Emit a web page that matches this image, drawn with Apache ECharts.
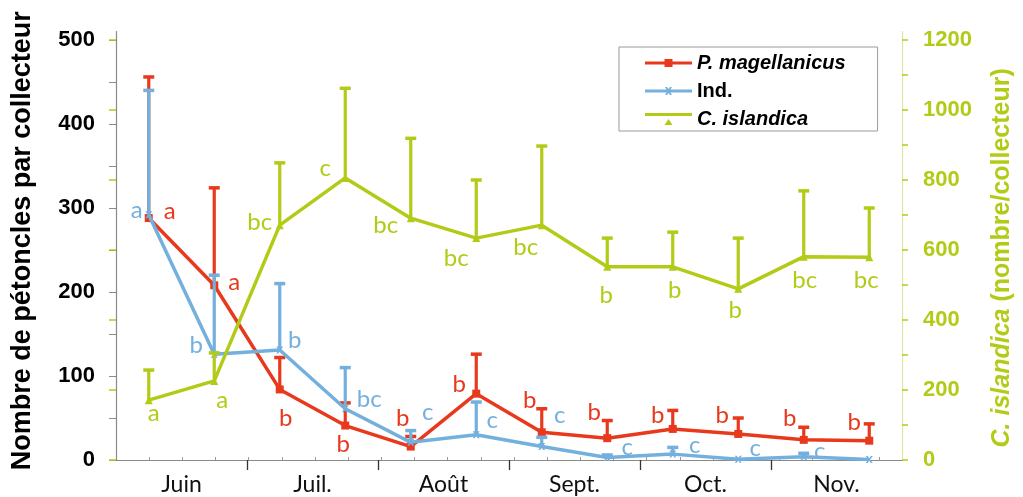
<!DOCTYPE html>
<html>
<head>
<meta charset="utf-8">
<script src="https://cdn.jsdelivr.net/npm/echarts@6/dist/echarts.min.js"></script>
<style>html,body{margin:0;padding:0;background:#fff;overflow:hidden;width:1023px;height:497px;}#chart{width:1023px;height:497px;display:block;}</style>
</head>
<body>
<div id="chart"></div>
<script>
// ---- data ----
const months = ['Juin', 'Juil.', 'Août', 'Sept.', 'Oct.', 'Nov.'];
// 12 sampling dates, two per month
const magMean  = [288, 208, 84, 41, 16, 79, 33, 26, 37, 31, 24, 23];
const magUpper = [456, 324, 122, 68, 28, 126, 61, 47, 59, 50, 39, 43];
const indMean  = [292, 126, 131, 61, 21, 30, 16, 3, 7, 1, 4, 0.5];
const indUpper = [440, 220, 210, 110, 35, 69, 27, 6, 15, null, 8, null];
const islMean  = [171, 226, 671, 806, 691, 634, 671, 552, 552, 489, 581, 579];
const islUpper = [257, 306, 849, 1062, 919, 800, 897, 634, 651, 634, 769, 720];
const magLetters = ['a', 'a', 'b', 'b', 'b', 'b', 'b', 'b', 'b', 'b', 'b', 'b'];
const indLetters = ['a', 'b', 'b', 'bc', 'c', 'c', 'c', 'c', 'c', 'c', 'c', ''];
const islLetters = ['a', 'a', 'bc', 'c', 'bc', 'bc', 'bc', 'b', 'b', 'b', 'bc', 'bc'];
const leftTicks = [0, 100, 200, 300, 400, 500];
const rightTicks = [0, 200, 400, 600, 800, 1000, 1200];

// ---- layout (label offsets in px) ----
const magOff = [[21,-7],[20,-3],[6,29],[-2,19],[-8,-28],[-17,-9],[-12,-32],[-13,-26],[-15,-14],[-16,-19],[-14,-22],[-15,-18]];
const indOff = [[-12,-4],[-18,-9],[15,-10],[24,-9],[17,-30],[16,-15],[18,-31],[20,-10],[22,-9],[17,-11],[16,-5],[0,0]];
const islOff = [[5,13],[8,19],[-20,-3],[-20,-10],[-25,7],[-20,20],[-16,22],[-1,28],[2,23],[-3,21],[1,24],[-3,23]];

const RED = '#E8391D', BLUE = '#74B0DD', GREEN = '#B3CB17';
const LETTER_FONT = 'Lato';
const xPos = i => i + 0.5; // sample i sits at centre of its half-month slot

function lineData(mean, letters, offs, color) {
  return mean.map((v, i) => ({
    value: [xPos(i), v],
    label: {
      show: letters[i] !== '', formatter: letters[i], position: 'inside',
      offset: offs[i], color: color, fontFamily: LETTER_FONT, fontSize: 24
    }
  }));
}
function errData(mean, upper) {
  const out = [];
  mean.forEach((v, i) => { if (upper[i] != null) out.push([xPos(i), v, upper[i]]); });
  return out;
}
function errRender(color) {
  return function (params, api) {
    const x = api.value(0);
    const p0 = api.coord([x, api.value(1)]);
    const p1 = api.coord([x, api.value(2)]);
    return {
      type: 'group', children: [
        { type: 'line', shape: { x1: p0[0], y1: p0[1], x2: p1[0], y2: p1[1] }, style: { stroke: color, lineWidth: 3.2 } },
        { type: 'line', shape: { x1: p1[0] - 5.5, y1: p1[1], x2: p1[0] + 5.5, y2: p1[1] }, style: { stroke: color, lineWidth: 3.5 } }
      ]
    };
  };
}

const monthCenters = months.map((m, i) => 2 * i + 1);
const monthBounds = [2, 4, 6, 8, 10];
const minorPos = [];
for (let k = 1; k < 24; k++) minorPos.push(k / 2);

const gridBox = { left: 116, right: 111, top: 31.6, bottom: 37 };
const chart = echarts.init(document.getElementById('chart'), null, { renderer: 'canvas', width: 1023, height: 497 });
chart.setOption({
  animation: false,
  backgroundColor: '#fff',
  grid: [Object.assign({}, gridBox), Object.assign({}, gridBox)],
  legend: {
    orient: 'vertical', left: 619, top: 47,
    backgroundColor: '#fff', borderColor: '#9a9a9a', borderWidth: 1,
    padding: [6, 32, 2, 26], itemGap: 8, itemWidth: 47, itemHeight: 12,
    textStyle: { fontFamily: 'Liberation Sans', fontWeight: 'bold', fontSize: 20, color: '#000' },
    data: [
      { name: 'P. magellanicus', icon: 'path://M0,2.5H47V5.5H0Z M19.5,0H27.5V8H19.5Z', textStyle: { fontStyle: 'italic' } },
      { name: 'Ind.', icon: 'path://M0,2.5H47V5.5H0Z M20,0L22,0L23.5,2L25,0L27,0L24.5,4L27,8L25,8L23.5,6L22,8L20,8L22.5,4Z' },
      { name: 'C. islandica', icon: 'path://M0,0H47V3H0Z M23.5,6L27.5,12H19.5Z', textStyle: { fontStyle: 'italic' } }
    ]
  },
  xAxis: [
    {
      type: 'value', gridIndex: 0, min: 0, max: 12, position: 'bottom',
      splitLine: { show: false },
      axisLine: { lineStyle: { color: '#8a8a8a', width: 1.2 } },
      axisTick: { show: true, length: 10, customValues: monthBounds, lineStyle: { color: '#333', width: 1.3 } },
      axisLabel: {
        customValues: monthCenters, margin: 13,
        formatter: v => months[(v - 1) / 2],
        fontFamily: 'Lato', fontSize: 23, color: '#111'
      }
    },
    {
      type: 'value', gridIndex: 1, min: 0, max: 12, position: 'bottom',
      splitLine: { show: false }, axisLine: { show: false }, axisLabel: { show: false },
      axisTick: { show: true, inside: true, length: 3, customValues: minorPos, lineStyle: { color: '#999' } }
    }
  ],
  yAxis: [
    {
      type: 'value', gridIndex: 0, min: 0, max: 510, position: 'left',
      name: 'Nombre de pétoncles par collecteur', nameLocation: 'middle', nameGap: 80,
      nameTextStyle: { fontFamily: 'Liberation Sans', fontWeight: 'bold', fontSize: 27, color: '#000', padding: [0, 0, 0, 10] },
      splitLine: { show: false },
      axisLine: { show: true, lineStyle: { color: '#8a8a8a', width: 1.2 } },
      axisTick: { show: true, length: 7, customValues: [0,50,100,150,200,250,300,350,400,450,500], lineStyle: { color: '#8a8a8a' } },
      axisLabel: { customValues: leftTicks, formatter: v => String(v), margin: 21, fontFamily: 'Liberation Sans', fontWeight: 'bold', fontSize: 22, color: '#000' }
    },
    {
      type: 'value', gridIndex: 0, min: 0, max: 1224, position: 'right',
      name: '{i|C. islandica} (nombre/collecteur)', nameLocation: 'middle', nameGap: 88,
      nameTextStyle: {
        fontFamily: 'Liberation Sans', fontWeight: 'bold', fontSize: 25, color: GREEN, padding: [0, 24, 0, 0],
        rich: { i: { fontFamily: 'Liberation Sans', fontWeight: 'bold', fontStyle: 'italic', fontSize: 25, color: GREEN } }
      },
      splitLine: { show: false },
      axisLine: { show: true, lineStyle: { color: '#DCE7A6', width: 1.2 } },
      axisTick: { show: true, length: 6, customValues: [0,100,200,300,400,500,600,700,800,900,1000,1100,1200], lineStyle: { color: GREEN, width: 1.5 } },
      axisLabel: { customValues: rightTicks, formatter: v => String(v), margin: 21, fontFamily: 'Liberation Sans', fontWeight: 'bold', fontSize: 22, color: GREEN }
    },
    {
      type: 'value', gridIndex: 1, min: 0, max: 1224, position: 'right',
      splitLine: { show: false }, axisLine: { show: false }, axisLabel: { show: false },
      axisTick: { show: true, inside: true, length: 7, customValues: rightTicks, lineStyle: { color: GREEN, width: 1.5 } }
    }
  ],
  series: [
    {
      name: 'P. magellanicus', type: 'line', xAxisIndex: 0, yAxisIndex: 0,
      data: lineData(magMean, magLetters, magOff, RED),
      symbol: 'rect', symbolSize: 8, showAllSymbol: true,
      itemStyle: { color: RED }, lineStyle: { color: RED, width: 3.5 }, z: 3
    },
    { type: 'custom', xAxisIndex: 0, yAxisIndex: 0, data: errData(magMean, magUpper), renderItem: errRender(RED), encode: { x: 0, y: [1, 2] }, z: 3 },
    {
      name: 'Ind.', type: 'line', xAxisIndex: 0, yAxisIndex: 0,
      data: lineData(indMean, indLetters, indOff, BLUE),
      symbol: 'path://M0,0L2,0L3.5,2.5L5,0L7,0L4.5,3.5L7,7L5,7L3.5,4.5L2,7L0,7L2.5,3.5Z', symbolSize: 7, showAllSymbol: true,
      itemStyle: { color: BLUE }, lineStyle: { color: BLUE, width: 3.5 }, z: 4
    },
    { type: 'custom', xAxisIndex: 0, yAxisIndex: 0, data: errData(indMean, indUpper), renderItem: errRender(BLUE), encode: { x: 0, y: [1, 2] }, z: 4 },
    {
      name: 'C. islandica', type: 'line', xAxisIndex: 0, yAxisIndex: 1,
      data: lineData(islMean, islLetters, islOff, GREEN),
      symbol: 'triangle', symbolSize: 8, showAllSymbol: true,
      itemStyle: { color: GREEN }, lineStyle: { color: GREEN, width: 3.5 }, z: 5
    },
    { type: 'custom', xAxisIndex: 0, yAxisIndex: 1, data: errData(islMean, islUpper), renderItem: errRender(GREEN), encode: { x: 0, y: [1, 2] }, z: 5 }
  ]
});
</script>
</body>
</html>
